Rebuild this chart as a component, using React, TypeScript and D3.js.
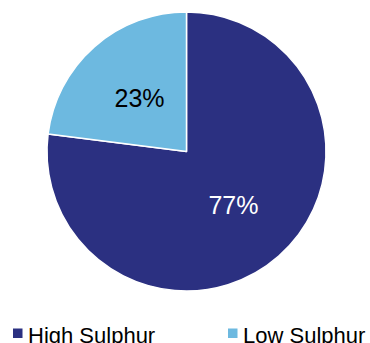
import React from "react";
import * as d3 from "d3";

const categories = ["High Sulphur", "Low Sulphur"];
const values = [77, 23];
const colors = ["#2B3081", "#6DB9E0"];
const labelColors = ["#FFFFFF", "#000000"];

export default function App() {
  const width = 370;
  const height = 343;
  const cx = 186.5;
  const cy = 151.5;
  const r = 139.5;
  const pie = d3.pie<number>().sort(null).value((d) => d)(values);
  const arc = d3.arc<d3.PieArcDatum<number>>().innerRadius(0).outerRadius(r);
  const labelArc = d3.arc<d3.PieArcDatum<number>>().innerRadius(71).outerRadius(71);
  const legendX = [13, 228];
  return (
    <svg
      width={width}
      height={height}
      style={{ position: "absolute", left: 0, top: 0, fontFamily: "Liberation Sans, Arial, sans-serif" }}
    >
      <g transform={`translate(${cx},${cy})`}>
        {pie.map((p, i) => (
          <path key={i} d={arc(p) || ""} fill={colors[i]} stroke="#FFFFFF" strokeWidth={1.5} strokeLinejoin="round" />
        ))}
        {pie.map((p, i) => {
          const [x, y] = labelArc.centroid(p);
          return (
            <text key={i} x={x} y={y + 9} textAnchor="middle" fontSize={25} fill={labelColors[i]}>
              {values[i]}%
            </text>
          );
        })}
      </g>
      {categories.map((c, i) => (
        <g key={c}>
          <rect x={legendX[i]} y={328.5} width={9.5} height={9.5} fill={colors[i]} />
          <text x={legendX[i] + 15} y={343} fontSize={22} fill="#000000">
            {c}
          </text>
        </g>
      ))}
    </svg>
  );
}
